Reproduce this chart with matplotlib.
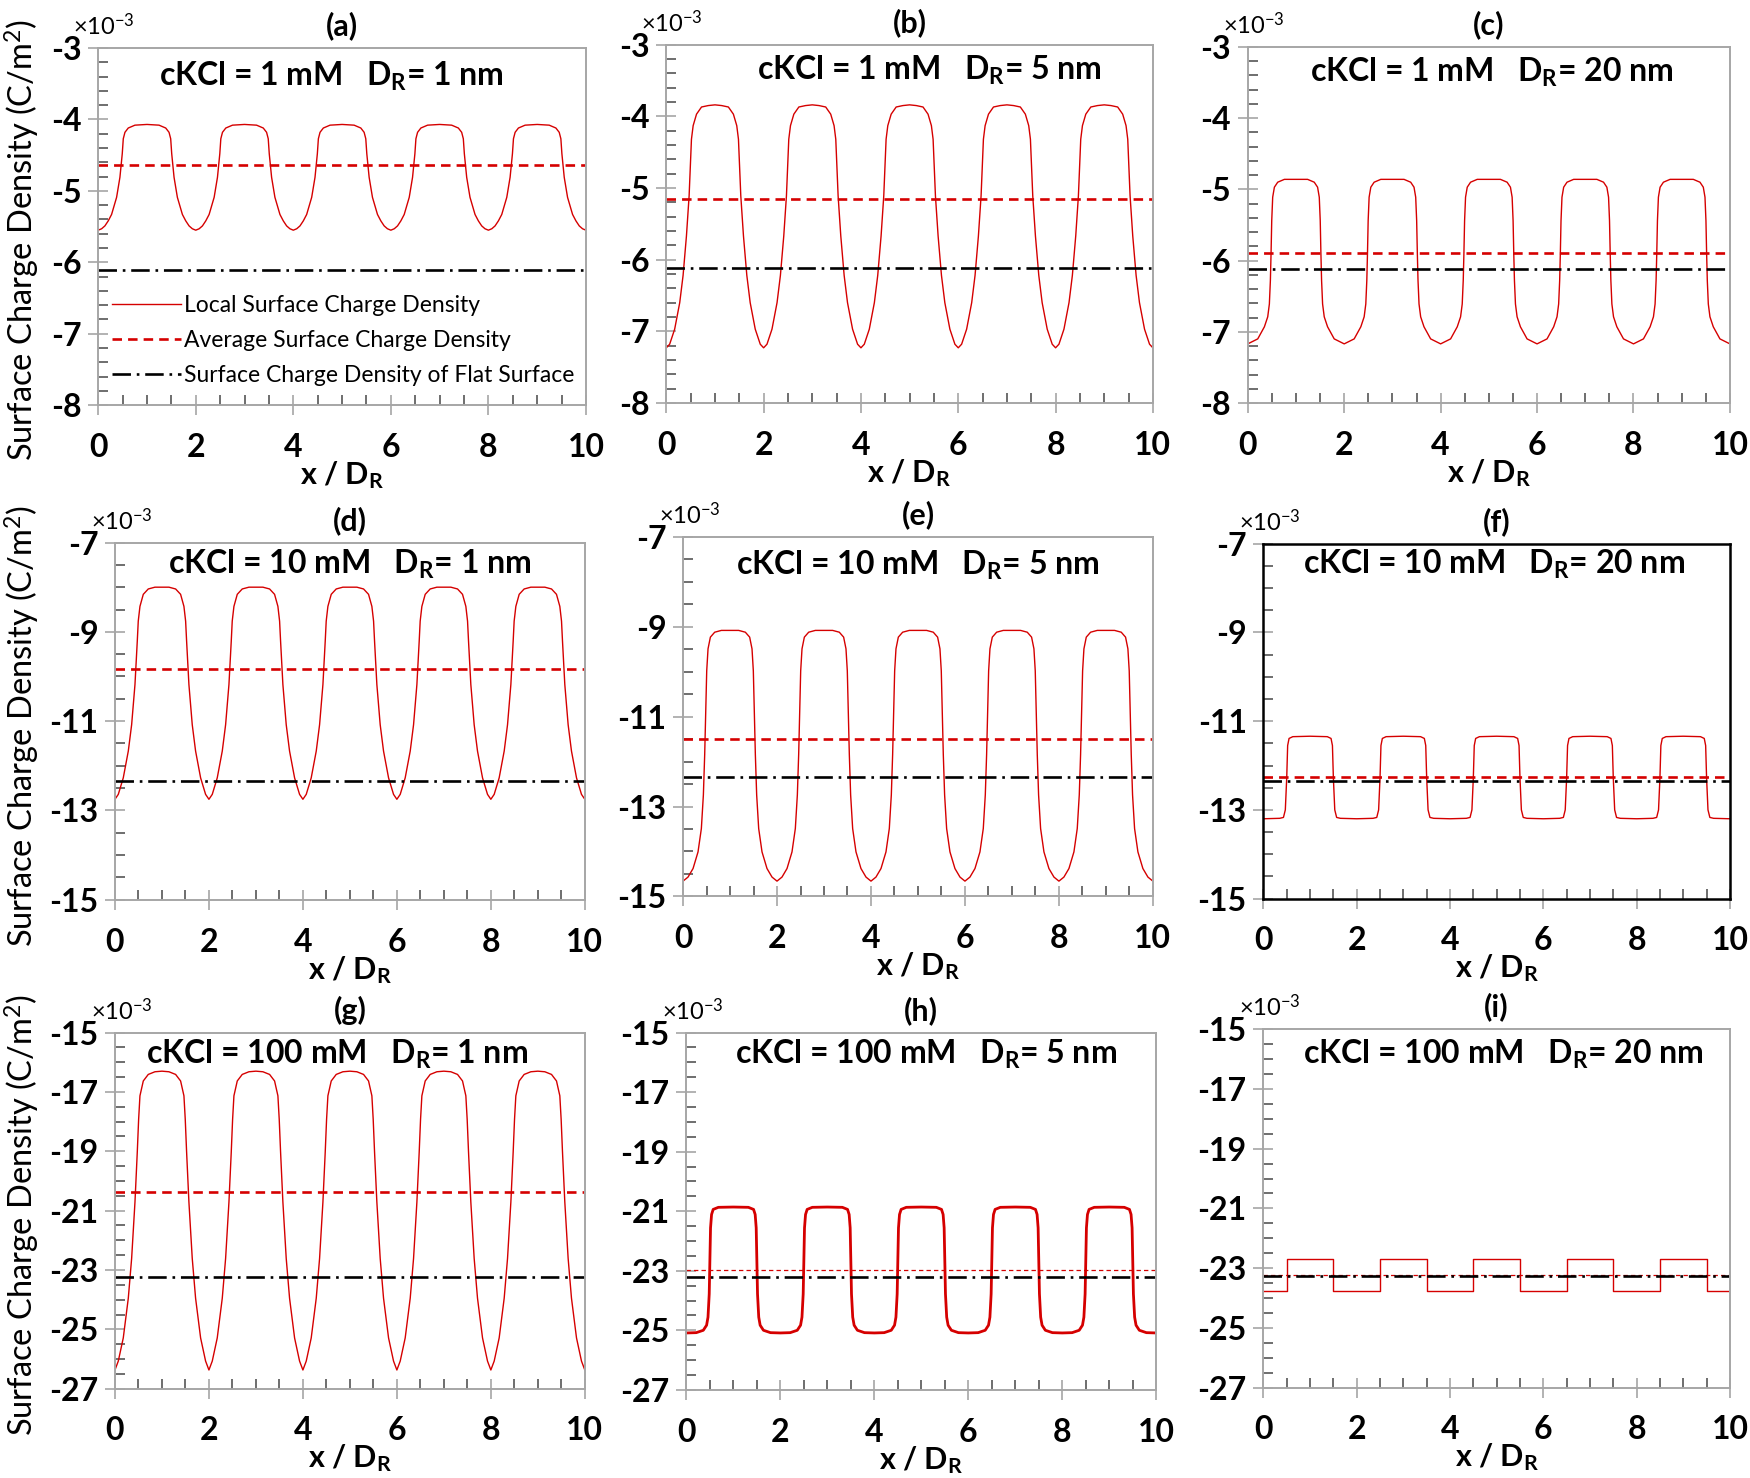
import numpy as np
import matplotlib
matplotlib.use("Agg")
import matplotlib.pyplot as plt
from matplotlib.ticker import FixedLocator

plt.rcParams['font.family'] = ['Lato', 'DejaVu Sans']
plt.rcParams['axes.unicode_minus'] = False
plt.rcParams['mathtext.fontset'] = 'custom'
plt.rcParams['mathtext.rm'] = 'Lato'
plt.rcParams['mathtext.bf'] = 'Lato:bold'
plt.rcParams['mathtext.it'] = 'Lato:italic'

# ---------------- data ----------------
panel_letters = ['(a)', '(b)', '(c)', '(d)', '(e)', '(f)', '(g)', '(h)', '(i)']
ckcl_mM = [1, 1, 1, 10, 10, 10, 100, 100, 100]
dr_nm = [1, 5, 20, 1, 5, 20, 1, 5, 20]

# half-period (x / D_R from 0 to 1) of the local surface charge density (x1e-3 C/m^2)
x_half_a = [0, 0.07, 0.137, 0.205, 0.274, 0.377, 0.445, 0.493, 0.514, 0.548, 0.616, 0.753, 1.0]
y_half_a = [-5.55, -5.53, -5.49, -5.42, -5.33, -5.09, -4.81, -4.48, -4.27, -4.18, -4.12, -4.08, -4.07]

x_half_b = [0, 0.069, 0.172, 0.276, 0.345, 0.414, 0.469, 0.497, 0.517, 0.552, 0.621, 0.724, 0.862, 1.0]
y_half_b = [-7.23, -7.18, -6.97, -6.60, -6.22, -5.67, -5.11, -4.64, -4.32, -4.13, -3.97, -3.87, -3.85, -3.84]

x_half_c = [0, 0.207, 0.345, 0.414, 0.448, 0.469, 0.483, 0.497, 0.517, 0.552, 0.621, 0.759, 1.0]
y_half_c = [-7.17, -7.10, -6.93, -6.79, -6.61, -6.28, -5.90, -5.44, -5.11, -4.97, -4.90, -4.86, -4.86]

x_half_d = [0, 0.071, 0.177, 0.284, 0.355, 0.426, 0.475, 0.496, 0.532, 0.603, 0.709, 0.851, 1.0]
y_half_d = [-12.75, -12.64, -12.27, -11.67, -11.08, -10.18, -9.21, -8.76, -8.43, -8.16, -8.04, -8.00, -8.00]

x_half_e = [0, 0.106, 0.213, 0.319, 0.390, 0.433, 0.461, 0.482, 0.504, 0.532, 0.582, 0.674, 0.816, 1.0]
y_half_e = [-14.66, -14.57, -14.38, -14.01, -13.49, -12.74, -11.84, -10.95, -9.98, -9.49, -9.23, -9.12, -9.08, -9.08]

x_half_f = [0, 0.35, 0.43, 0.47, 0.50, 0.52, 0.55, 0.63, 1.0]
y_half_f = [-13.20, -13.19, -13.17, -13.00, -12.28, -11.55, -11.39, -11.35, -11.34]

x_half_g = [0, 0.071, 0.177, 0.284, 0.355, 0.426, 0.475, 0.504, 0.532, 0.603, 0.709, 0.851, 1.0]
y_half_g = [-26.37, -26.07, -25.29, -23.95, -22.61, -20.71, -19.03, -17.92, -17.13, -16.63, -16.41, -16.32, -16.30]

x_half_h = [0, 0.21, 0.36, 0.43, 0.46, 0.486, 0.50, 0.514, 0.536, 0.57, 0.68, 1.0]
y_half_h = [-25.09, -25.08, -25.00, -24.83, -24.56, -23.78, -22.67, -21.56, -21.11, -20.94, -20.87, -20.86]

x_half_i = [0, 0.5, 0.5, 1.0]
y_half_i = [-23.76, -23.76, -22.70, -22.70]

avg_values = [-4.64, -5.16, -5.89, -9.84, -11.49, -12.27, -20.37, -22.96, -23.24]
flat_values = [-6.11, -6.12, -6.12, -12.35, -12.35, -12.34, -23.25, -23.22, -23.25]

row_ylim = [(-8, -3), (-15, -7), (-27, -15)]
row_yticks = [[-8, -7, -6, -5, -4, -3],
              [-15, -13, -11, -9, -7],
              [-27, -25, -23, -21, -19, -17, -15]]
row_yminor_step = [0.2, 0.5, 0.5]
x_ticks = [0, 2, 4, 6, 8, 10]
x_minor_step = 0.5

x_range = (0, 10)
legend_labels = ['Local Surface Charge Density', 'Average Surface Charge Density',
                 'Surface Charge Density of Flat Surface']

halves = [(x_half_a, y_half_a), (x_half_b, y_half_b), (x_half_c, y_half_c),
          (x_half_d, y_half_d), (x_half_e, y_half_e), (x_half_f, y_half_f),
          (x_half_g, y_half_g), (x_half_h, y_half_h), (x_half_i, y_half_i)]

# ---------------- layout (pixel boxes measured on 1568x1324 preview) ----------------
SW, SH = 1568.0, 1324.0
boxes = [(88, 525, 43, 363), (597, 1033, 40, 361), (1118, 1550, 42, 361),
         (103, 524, 486, 806), (612, 1033, 481, 803), (1132, 1550, 487, 805),
         (103, 524, 925, 1244), (615, 1036, 925, 1245), (1132, 1550, 922, 1243)]
annot_pos = [(0.478, 0.92), (0.54, 0.928), (0.506, 0.928),
             (0.499, 0.938), (0.499, 0.922), (0.495, 0.94),
             (0.473, 0.94), (0.51, 0.94), (0.514, 0.93)]

RED = '#D50000'
GRAY = '#A6A6A6'

fig = plt.figure(figsize=(17.5, 14.78), dpi=100)


def build_curve(xh, yh):
    xh = np.asarray(xh, float)
    yh = np.asarray(yh, float)
    xp = np.concatenate([xh, 2 - xh[::-1][1:]])
    yp = np.concatenate([yh, yh[::-1][1:]])
    xs, ys = [xp], [yp]
    for k in range(1, 5):
        xs.append(xp[1:] + 2 * k)
        ys.append(yp[1:])
    return np.concatenate(xs), np.concatenate(ys)


for i in range(9):
    L, R, T, B = boxes[i]
    ax = fig.add_axes([L / SW, 1 - B / SH, (R - L) / SW, (B - T) / SH])
    row = i // 3
    xc, yc = build_curve(*halves[i])
    lw_local = 2.0 if i == 7 else 1.0
    h1, = ax.plot(xc, yc, color=RED, lw=lw_local, solid_joinstyle='round')
    if i >= 7:
        h2, = ax.plot(x_range, [avg_values[i]] * 2, color=RED, lw=0.9, dashes=(3.5, 2.5))
    else:
        h2, = ax.plot(x_range, [avg_values[i]] * 2, color=RED, lw=1.9, dashes=(3.6, 2.3))
    h3, = ax.plot(x_range, [flat_values[i]] * 2, color='black', lw=1.9, dashes=(7, 2.2, 1, 2.2))

    ax.set_xlim(*x_range)
    ylo, yhi = row_ylim[row]
    ax.set_ylim(ylo, yhi)
    ax.xaxis.set_major_locator(FixedLocator(x_ticks))
    ax.xaxis.set_minor_locator(FixedLocator(np.arange(x_range[0], x_range[1] + 1e-9, x_minor_step)))
    ax.yaxis.set_major_locator(FixedLocator(row_yticks[row]))
    ax.yaxis.set_minor_locator(FixedLocator(np.arange(ylo, yhi + 1e-9, row_yminor_step[row])))

    spine_col = 'black' if i == 5 else GRAY
    spine_lw = 1.8 if i == 5 else 1.4
    for s in ax.spines.values():
        s.set_color(spine_col)
        s.set_linewidth(spine_lw)

    ax.tick_params(axis='both', which='major', direction='inout', length=14, width=1.2,
                   color=GRAY, labelsize=23)
    ax.tick_params(axis='both', which='minor', direction='in', length=7, width=1.2,
                   color='#555555')
    ax.tick_params(axis='x', which='major', pad=13)
    ax.tick_params(axis='y', which='major', pad=5)
    for lab in ax.get_xticklabels() + ax.get_yticklabels():
        lab.set_fontweight('bold')

    ax.set_xlabel(r'x / D$_\mathbf{R}$', fontsize=22, fontweight='bold', labelpad=-2)

    ax.text(0.5, 1.062, panel_letters[i], transform=ax.transAxes, ha='center', va='center',
            fontsize=22, fontweight='bold')
    ax.text(-0.052, 1.062, r'×10$^{-3}$', transform=ax.transAxes, ha='left', va='center',
            fontsize=17)
    ax.text(annot_pos[i][0], annot_pos[i][1],
            'cKCl = %d mM   D$_\\mathbf{R}$= %d nm' % (ckcl_mM[i], dr_nm[i]),
            transform=ax.transAxes, ha='center', va='center', fontsize=23, fontweight='bold')

    if i == 0:
        ax.legend([h1, h2, h3], legend_labels, loc='lower left', bbox_to_anchor=(0.0, 0.015),
                  frameon=False, fontsize=16.5, handlelength=3.0, handletextpad=0.15,
                  labelspacing=0.62, borderaxespad=0.2)

# y labels, one per row
for row, yc in enumerate([215, 650, 1088]):
    fig.text(20 / SW, 1 - yc / SH, 'Surface Charge Density (C/m$^2$)', rotation=90,
             ha='center', va='center', fontsize=23.5)

fig.savefig('out.png', dpi=100)
